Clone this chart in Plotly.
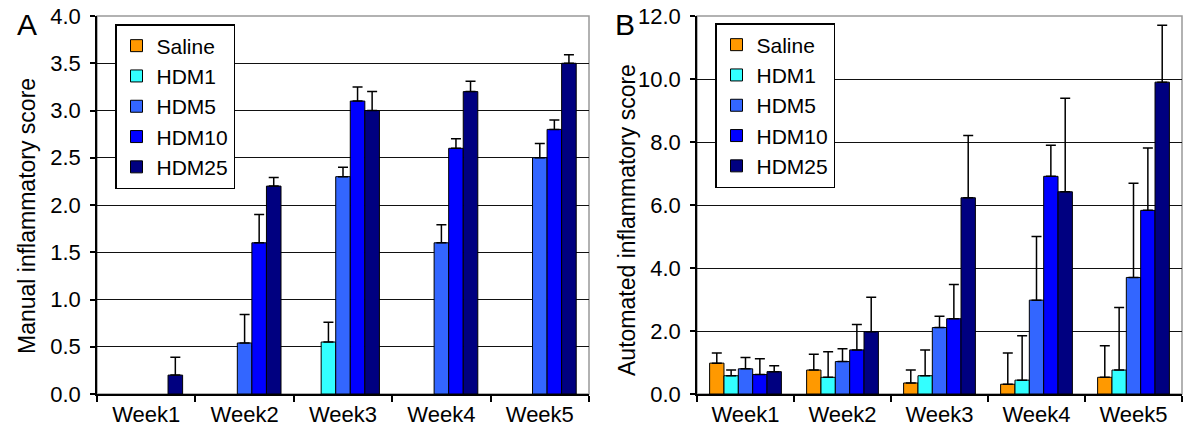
import plotly.graph_objects as go

weeks = ["Week1", "Week2", "Week3", "Week4", "Week5"]
series_names = ["Saline", "HDM1", "HDM5", "HDM10", "HDM25"]
colors = ["#FF9900", "#33FFFF", "#3366FF", "#0000FF", "#000080"]

# Panel A: manual inflammatory score (mean, upper error)
saline_A = [None, None, None, None, None]
saline_A_err = [None, None, None, None, None]
hdm1_A = [None, None, 0.55, None, None]
hdm1_A_err = [None, None, 0.21, None, None]
hdm5_A = [None, 0.54, 2.3, 1.6, 2.5]
hdm5_A_err = [None, 0.30, 0.10, 0.19, 0.15]
hdm10_A = [None, 1.6, 3.1, 2.6, 2.8]
hdm10_A_err = [None, 0.30, 0.15, 0.10, 0.10]
hdm25_A = [0.2, 2.2, 3.0, 3.2, 3.5]
hdm25_A_err = [0.19, 0.09, 0.20, 0.11, 0.09]

# Panel B: automated inflammatory score (mean, upper error)
saline_B = [0.98, 0.76, 0.35, 0.31, 0.53]
saline_B_err = [0.32, 0.50, 0.41, 0.99, 1.00]
hdm1_B = [0.58, 0.53, 0.58, 0.44, 0.76]
hdm1_B_err = [0.18, 0.81, 0.82, 1.41, 1.99]
hdm5_B = [0.80, 1.03, 2.11, 2.98, 3.70]
hdm5_B_err = [0.36, 0.41, 0.36, 2.02, 2.99]
hdm10_B = [0.62, 1.40, 2.39, 6.91, 5.83]
hdm10_B_err = [0.50, 0.81, 1.09, 0.99, 1.98]
hdm25_B = [0.71, 1.98, 6.23, 6.42, 9.90]
hdm25_B_err = [0.19, 1.09, 1.98, 2.97, 1.81]

yticks_A = [0.0, 0.5, 1.0, 1.5, 2.0, 2.5, 3.0, 3.5, 4.0]
yticks_B = [0.0, 2.0, 4.0, 6.0, 8.0, 10.0, 12.0]

title_A = "Manual inflammatory score"
title_B = "Automated inflammatory score"

FONT = "Liberation Sans, Arial, sans-serif"

panel_A = [(saline_A, saline_A_err), (hdm1_A, hdm1_A_err), (hdm5_A, hdm5_A_err),
           (hdm10_A, hdm10_A_err), (hdm25_A, hdm25_A_err)]
panel_B = [(saline_B, saline_B_err), (hdm1_B, hdm1_B_err), (hdm5_B, hdm5_B_err),
           (hdm10_B, hdm10_B_err), (hdm25_B, hdm25_B_err)]

fig = go.Figure()

def add_panel(data, xa, ya, legend):
    for name, color, (vals, errs) in zip(series_names, colors, data):
        fig.add_trace(go.Bar(
            x=weeks, y=vals, name=name, xaxis=xa, yaxis=ya, legend=legend,
            marker=dict(color=color, line=dict(color="black", width=1)),
            error_y=dict(type="data", symmetric=False, array=errs,
                         arrayminus=[0] * len(errs), color="black",
                         thickness=1.5, width=5),
        ))

add_panel(panel_A, "x", "y", "legend")
add_panel(panel_B, "x2", "y2", "legend2")

y0, y1 = 1 - 394 / 432, 1 - 16 / 432
xA = [97 / 1200, 589 / 1200]
xB = [697 / 1200, 1182 / 1200]

xcommon = dict(showline=True, linecolor="black", linewidth=1.5, ticks="outside",
               tickson="boundaries", ticklen=6, tickcolor="black", tickwidth=1.5,
               tickfont=dict(size=22, color="black", family=FONT), showgrid=False,
               automargin=False)
ycommon = dict(showline=True, linecolor="black", linewidth=1.5, ticks="outside",
               ticklen=5, tickcolor="black", tickwidth=1.5, tickformat=".1f",
               tickfont=dict(size=22, color="black", family=FONT),
               ticklabelstandoff=5,
               showgrid=True, gridcolor="#111111", gridwidth=1.3,
               zeroline=False, automargin=False)

legcommon = dict(xanchor="left", yanchor="top", bgcolor="white",
                 bordercolor="black", borderwidth=1.5,
                 font=dict(size=21, family=FONT, color="black"), itemwidth=30)

fig.update_layout(
    width=1200, height=432,
    margin=dict(l=0, r=0, t=0, b=0),
    paper_bgcolor="white", plot_bgcolor="white",
    font=dict(family=FONT, color="black", size=22),
    barmode="group", bargap=0.26, bargroupgap=0,
    xaxis=dict(domain=xA, anchor="y", **xcommon),
    xaxis2=dict(domain=xB, anchor="y2", **xcommon),
    yaxis=dict(domain=[y0, y1], anchor="x", range=[0, 4], tickvals=yticks_A,
               **ycommon),
    yaxis2=dict(domain=[y0, y1], anchor="x2", range=[0, 12], tickvals=yticks_B,
                **ycommon),
    legend=dict(x=115 / 1200, y=1 - 24 / 432, **legcommon),
    legend2=dict(x=715 / 1200, y=1 - 23 / 432, **legcommon),
    showlegend=True,
    shapes=[
        dict(type="rect", xref="x domain", yref="y domain", x0=0, x1=1, y0=0, y1=1,
             line=dict(color="#999999", width=1.5), layer="below"),
        dict(type="rect", xref="x2 domain", yref="y2 domain", x0=0, x1=1, y0=0, y1=1,
             line=dict(color="#999999", width=1.5), layer="below"),
    ],
    annotations=[
        dict(text="A", x=27 / 1200, y=1 - 25 / 432, xref="paper", yref="paper",
             xanchor="center", yanchor="middle",
             showarrow=False, font=dict(size=30, family=FONT, color="black")),
        dict(text="B", x=625 / 1200, y=1 - 25 / 432, xref="paper", yref="paper",
             xanchor="center", yanchor="middle",
             showarrow=False, font=dict(size=30, family=FONT, color="black")),
        dict(text=title_A, x=27 / 1200, y=1 - 216 / 432, xref="paper", yref="paper",
             xanchor="center", yanchor="middle", textangle=-90,
             showarrow=False, font=dict(size=23, family=FONT, color="black")),
        dict(text=title_B, x=627 / 1200, y=1 - 220 / 432, xref="paper", yref="paper",
             xanchor="center", yanchor="middle", textangle=-90,
             showarrow=False, font=dict(size=23, family=FONT, color="black")),
    ],
)

fig.write_html("out.html", config={"displayModeBar": False},
               post_script="document.body.style.margin='0';document.body.style.overflow='hidden';")
